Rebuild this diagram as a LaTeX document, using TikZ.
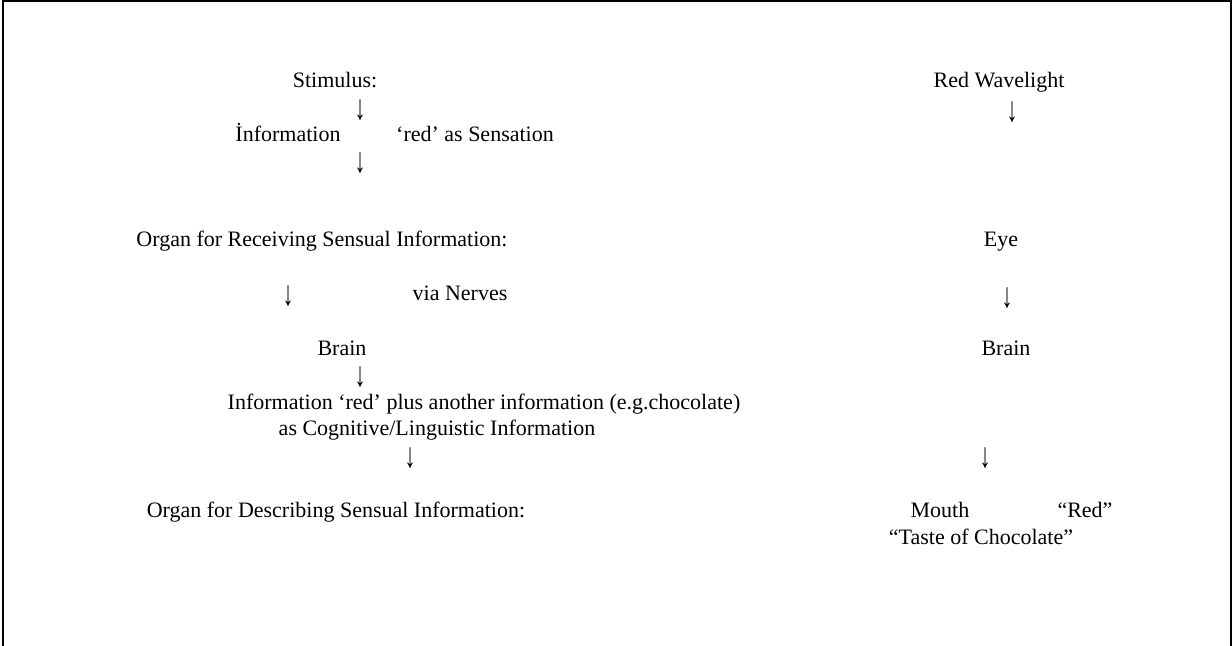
\documentclass[tikz,border=0pt]{standalone}
\usepackage{fontspec}
\setmainfont{Liberation Serif}
\newcommand{\dnarrow}{\scalebox{1}[1.6]{↓}}
\begin{document}
\begin{tikzpicture}[x=0.5pt,y=-0.5pt,
  txt/.style={inner sep=0pt,anchor=center,text height=0.7em,text depth=0.2em,font=\fontsize{11}{13}\selectfont},
  arr/.style={inner sep=0pt,anchor=center,font=\fontsize{11}{13}\selectfont}]
\useasboundingbox (0,0) rectangle (1232,646);
\coordinate (fbl) at (3,646);
\coordinate (ftl) at (3,1.5);
\coordinate (ftr) at (1230.5,1.5);
\coordinate (fbr) at (1230.5,646);
\draw[line width=1pt] (fbl) -- (ftl) -- (ftr) -- (fbr);
% left column
\node[txt] (stim) at (335,83) {Stimulus:};
\node[arr] (a1) at (360,110) {\dnarrow};
\node[txt] (info) at (288,137) {İnformation};
\node[txt] (sens) at (475,137) {‘red’ as Sensation};
\node[arr] (a2) at (360,163) {\dnarrow};
\node[txt] (organ) at (322,242) {Organ for Receiving Sensual Information:};
\node[arr] (a3) at (288,296) {\dnarrow};
\node[txt] (nerves) at (460,296) {via Nerves};
\node[txt] (brainL) at (342,351) {Brain};
\node[arr] (a4) at (360,377) {\dnarrow};
\node[txt] (infored) at (484,405) {Information ‘red’ plus another information (e.g.chocolate)};
\node[txt] (cogn) at (437,431) {as Cognitive/Linguistic Information};
\node[arr] (a5) at (410,458) {\dnarrow};
\node[txt] (descr) at (336,512) {Organ for Describing Sensual Information:};
% right column
\node[txt] (wave) at (999,83) {Red Wavelight};
\node[arr] (b1) at (1012,112) {\dnarrow};
\node[txt] (eye) at (1001,242) {Eye};
\node[arr] (b2) at (1007,298) {\dnarrow};
\node[txt] (brainR) at (1006,351) {Brain};
\node[arr] (b3) at (985,458) {\dnarrow};
\node[txt] (mouth) at (940,512) {Mouth};
\node[txt] (redq) at (1085,512) {“Red”};
\node[txt] (taste) at (981,540) {“Taste of Chocolate”};
\end{tikzpicture}
\end{document}
